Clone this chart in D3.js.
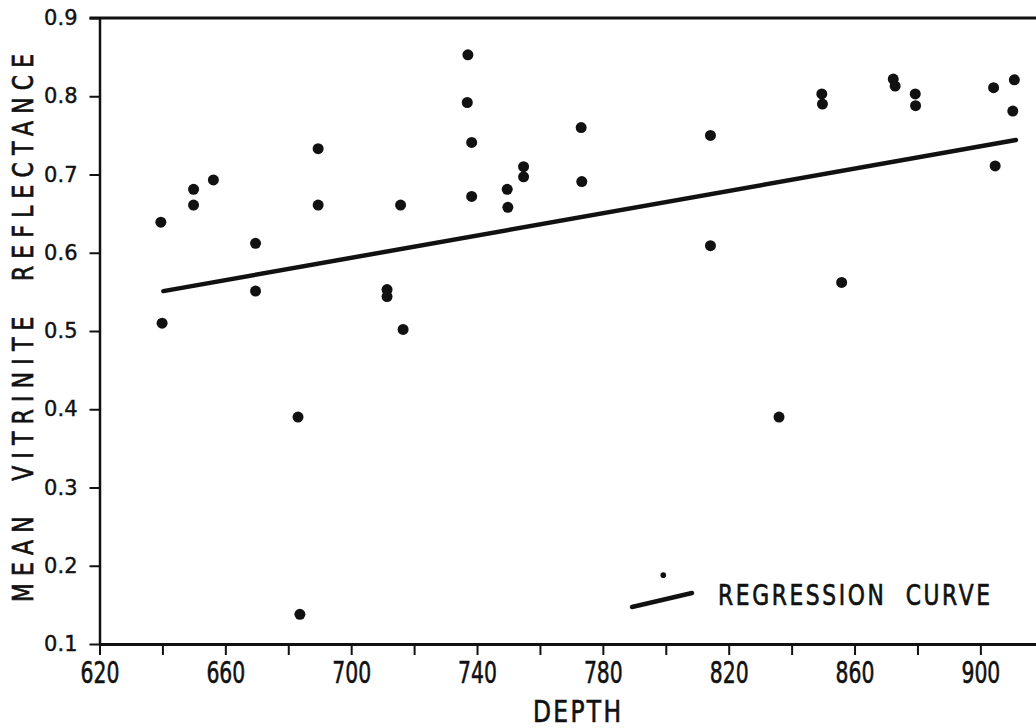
<!DOCTYPE html>
<html>
<head>
<meta charset="utf-8">
<script src="https://cdn.jsdelivr.net/npm/d3@7"></script>
<style>
  body { margin: 0; background: #fff; }
  svg { display: block; }
</style>
</head>
<body>
<div id="chart"></div>
<script>
// depth / mean vitrinite reflectance samples
const depth = [639.5, 639.9, 649.9, 649.9, 656.2, 669.6, 669.6, 689.5, 689.5, 683.1,
  683.7, 711.4, 711.4, 715.7, 716.5, 737.1, 736.9, 738.3, 738.3, 749.6,
  749.8, 754.8, 754.8, 773.1, 773.3, 814.2, 814.2, 836.0, 849.6, 849.8,
  855.9, 872.3, 872.9, 879.3, 879.4, 904.2, 904.7, 910.8, 910.3];
const reflectance = [0.639, 0.510, 0.681, 0.661, 0.693, 0.612, 0.551, 0.733, 0.661, 0.390,
  0.138, 0.553, 0.544, 0.661, 0.502, 0.853, 0.792, 0.741, 0.672, 0.681,
  0.658, 0.710, 0.697, 0.760, 0.691, 0.750, 0.609, 0.390, 0.803, 0.790,
  0.562, 0.822, 0.813, 0.803, 0.788, 0.811, 0.711, 0.821, 0.781];

// small dot near the legend
const smallDepth = [799.2];
const smallReflectance = [0.188];

// regression curve end points
const regDepth = [640.3, 911.3];
const regReflectance = [0.551, 0.744];

const xTicks = [620, 640, 660, 680, 700, 720, 740, 760, 780, 800, 820, 840, 860, 880, 900];
const xTickLabels = ["620", "", "660", "", "700", "", "740", "", "780", "", "820", "", "860", "", "900"];
const yTicks = [0.1, 0.2, 0.3, 0.4, 0.5, 0.6, 0.7, 0.8, 0.9];

const width = 1036, height = 728;
const ink = "#111";
const font = "DejaVu Sans, sans-serif";
const squeeze = 0.78; // schmale Schrift nachbilden

const svg = d3.select("#chart").append("svg")
  .attr("width", width)
  .attr("height", height);

const x = d3.scaleLinear().domain([620, 920]).range([99.5, 1043.3]);
const y = d3.scaleLinear().domain([0.1, 0.9]).range([644, 18]);

// schmaler, gesperrter Text
function condensedText(px, py, rot, size, len, str) {
  return svg.append("text")
    .attr("transform", `translate(${px},${py}) rotate(${rot}) scale(${squeeze},1)`)
    .attr("text-anchor", "middle")
    .attr("font-family", font)
    .attr("font-size", size)
    .style("white-space", "pre")
    .attr("fill", ink)
    .attr("stroke", ink)
    .attr("stroke-width", 0.7)
    .attr("textLength", len / squeeze)
    .attr("lengthAdjust", "spacing")
    .text(str);
}

// frame top
svg.append("line")
  .attr("x1", x(620) - 10).attr("x2", x(920))
  .attr("y1", y(0.9)).attr("y2", y(0.9))
  .attr("stroke", ink).attr("stroke-width", 3);

// X-Achse
const gx = svg.append("g")
  .attr("transform", `translate(0,${y(0.1)})`)
  .call(d3.axisBottom(x)
    .tickValues(xTicks)
    .tickFormat((d, i) => xTickLabels[i])
    .tickSize(11)
    .tickSizeOuter(0)
    .tickPadding(7));
gx.attr("font-size", 30).attr("font-family", font);
gx.select(".domain").attr("stroke", ink).attr("stroke-width", 3);
gx.selectAll(".tick line").attr("stroke", ink).attr("stroke-width", 2);
gx.selectAll(".tick text")
  .attr("fill", ink)
  .attr("stroke", ink)
  .attr("stroke-width", 0.6)
  .attr("font-size", 30)
  .attr("transform", "scale(0.68,1)");

// Y-Achse
const gy = svg.append("g")
  .attr("transform", `translate(${x(620)},0)`)
  .call(d3.axisLeft(y)
    .tickValues(yTicks)
    .tickFormat(d3.format(".1f"))
    .tickSize(10)
    .tickSizeOuter(0)
    .tickPadding(12));
gy.attr("font-size", 21).attr("font-family", font);
gy.select(".domain").attr("stroke", ink).attr("stroke-width", 2.5);
gy.selectAll(".tick line").attr("stroke", ink).attr("stroke-width", 2);
gy.selectAll(".tick text")
  .attr("fill", ink)
  .attr("stroke", ink)
  .attr("stroke-width", 0.4)
  .attr("font-size", 21);

// Achsentitel
condensedText(577, 722, 0, 30, 88, "DEPTH");
condensedText(33, 328, -90, 28, 548, "MEAN  VITRINITE  REFLECTANCE");

// Regressionslinie
const line = d3.line()
  .x(d => x(d[0]))
  .y(d => y(d[1]));

svg.append("path")
  .attr("d", line(d3.zip(regDepth, regReflectance)))
  .attr("fill", "none")
  .attr("stroke", ink)
  .attr("stroke-width", 4.5)
  .attr("stroke-linecap", "round");

// Punkte
svg.selectAll(".pt")
  .data(d3.zip(depth, reflectance))
  .enter()
  .append("circle")
  .attr("class", "pt")
  .attr("cx", d => x(d[0]))
  .attr("cy", d => y(d[1]))
  .attr("r", 5.5)
  .attr("fill", ink);

svg.selectAll(".small-pt")
  .data(d3.zip(smallDepth, smallReflectance))
  .enter()
  .append("circle")
  .attr("class", "small-pt")
  .attr("cx", d => x(d[0]))
  .attr("cy", d => y(d[1]))
  .attr("r", 2.8)
  .attr("fill", ink);

// Legende
svg.append("line")
  .attr("x1", 632).attr("y1", 607)
  .attr("x2", 692).attr("y2", 593)
  .attr("stroke", ink)
  .attr("stroke-width", 4.5)
  .attr("stroke-linecap", "round");
condensedText(718 + 136, 605, 0, 28, 272, "REGRESSION  CURVE");
</script>
</body>
</html>
